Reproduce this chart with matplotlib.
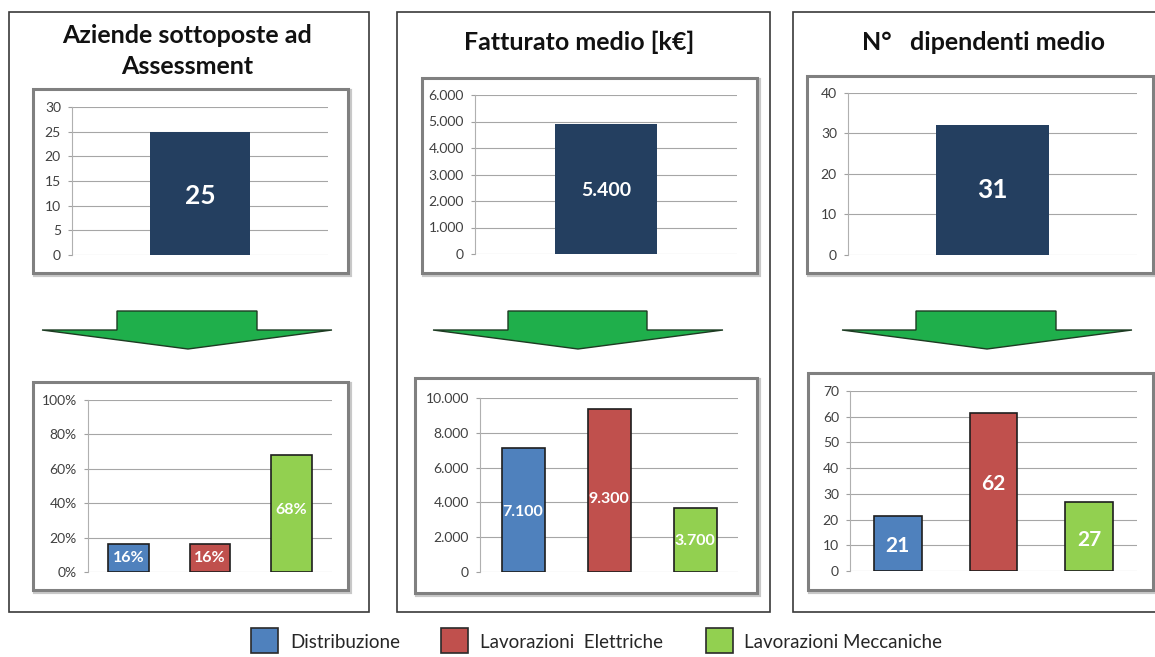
import matplotlib
matplotlib.use("Agg")
import matplotlib.pyplot as plt
from matplotlib.patches import Rectangle, Polygon

plt.rcParams['font.family'] = ['Lato', 'DejaVu Sans']

# ---------------- data ----------------
titles = ["Aziende sottoposte ad\nAssessment", "Fatturato medio [k\u20ac]", "N\u00b0   dipendenti medio"]

top_values = [25, 4900, 32]
top_labels = ["25", "5.400", "31"]
top_ticks = [[0, 5, 10, 15, 20, 25, 30],
             [0, 1000, 2000, 3000, 4000, 5000, 6000],
             [0, 10, 20, 30, 40]]
top_ticklabels = [["0", "5", "10", "15", "20", "25", "30"],
                  ["0", "1.000", "2.000", "3.000", "4.000", "5.000", "6.000"],
                  ["0", "10", "20", "30", "40"]]

categories = ["Distribuzione", "Lavorazioni  Elettriche", "Lavorazioni Meccaniche"]
bottom_values = [[0.16, 0.16, 0.68],
                 [7150, 9350, 3700],
                 [21.5, 61.5, 27]]
bottom_labels = [["16%", "16%", "68%"],
                 ["7.100", "9.300", "3.700"],
                 ["21", "62", "27"]]
bottom_ticks = [[0, 0.2, 0.4, 0.6, 0.8, 1.0],
                [0, 2000, 4000, 6000, 8000, 10000],
                [0, 10, 20, 30, 40, 50, 60, 70]]
bottom_ticklabels = [["0%", "20%", "40%", "60%", "80%", "100%"],
                     ["0", "2.000", "4.000", "6.000", "8.000", "10.000"],
                     ["0", "10", "20", "30", "40", "50", "60", "70"]]

navy = "#243F60"
cat_colors = ["#4F81BD", "#C0504D", "#92D050"]

# ---------------- layout (pixels) ----------------
W, H = 1155, 657
fig = plt.figure(figsize=(W / 100, H / 100), dpi=100)
fig.patch.set_facecolor("white")

bg = fig.add_axes([0, 0, 1, 1], zorder=0)
bg.set_xlim(0, W)
bg.set_ylim(H, 0)
bg.axis("off")

outer = [(9, 12, 369, 612), (397, 12, 770, 612), (793, 12, 1160, 612)]
title_xy = [(187, 51), (579, 42), (983, 43)]
top_box = [(33, 89, 348, 273), (422, 78, 757, 273), (807, 76, 1153, 273)]
top_plot = [(72, 107, 328, 255), (475, 95, 737, 254), (848, 93, 1137, 255)]
bot_box = [(33, 382, 348, 590), (415, 378, 757, 593), (808, 373, 1153, 590)]
bot_plot = [(88, 400, 332, 572), (480, 398, 738, 572), (850, 391, 1137, 571)]
arrows = [(117, 257, 42, 332, 188), (508, 647, 433, 723, 578), (916, 1056, 842, 1132, 987)]


def px_axes(box):
    x0, y0, x1, y1 = box
    return fig.add_axes([x0 / W, 1 - y1 / H, (x1 - x0) / W, (y1 - y0) / H], zorder=3)


def frame(box, shadow=True):
    x0, y0, x1, y1 = box
    if shadow:
        bg.add_patch(Rectangle((x0 + 2, y0 + 2), x1 - x0, y1 - y0, facecolor="#d0d0d0",
                               edgecolor="#c8c8c8", lw=3, zorder=1))
        bg.add_patch(Rectangle((x0, y0), x1 - x0, y1 - y0, facecolor="white",
                               edgecolor="#808080", lw=2.2, zorder=2))
    else:
        bg.add_patch(Rectangle((x0, y0), x1 - x0, y1 - y0, facecolor="white",
                               edgecolor="#3a3a3a", lw=1.2, zorder=0.5))


def style(ax, ticks, labels, ymax):
    ax.set_facecolor("none")
    ax.set_ylim(0, ymax)
    ax.set_yticks(ticks)
    ax.set_yticklabels(labels)
    ax.set_xticks([])
    ax.tick_params(axis="y", labelsize=10, labelcolor="#404040", color="#a0a0a0",
                   length=3, width=0.8, pad=5)
    for s in ["top", "right", "bottom"]:
        ax.spines[s].set_visible(False)
    ax.spines["left"].set_color("#b0b0b0")
    ax.spines["left"].set_linewidth(0.8)
    ax.yaxis.grid(True, color="#a6a6a6", lw=0.8)
    ax.set_axisbelow(True)


for i in range(3):
    frame(outer[i], shadow=False)
    frame(top_box[i])
    frame(bot_box[i])
    bg.text(title_xy[i][0], title_xy[i][1], titles[i], ha="center", va="center",
            fontsize=18, fontweight="bold", color="#111111", linespacing=1.45, zorder=3)

    # arrow
    bx0, bx1, wx0, wx1, tipx = arrows[i]
    pts = [(bx0, 311), (bx1, 311), (bx1, 330), (wx1, 330), (tipx, 349), (wx0, 330), (bx0, 330)]
    bg.add_patch(Polygon(pts, closed=True, facecolor="#1FAF4B", edgecolor="#1d3b22",
                         lw=1.0, joinstyle="miter", zorder=3))

    # top chart
    ax = px_axes(top_plot[i])
    ymax = top_ticks[i][-1]
    ax.bar([0], [top_values[i]], width=0.78, color=navy, zorder=3)
    ax.set_xlim(-1, 1)
    style(ax, top_ticks[i], top_ticklabels[i], ymax)
    ax.text(0, ymax * 0.4, top_labels[i], ha="center", va="center", color="white",
            fontsize=19 if i != 1 else 14, fontweight="bold", zorder=4)

    # bottom chart
    ax = px_axes(bot_plot[i])
    ymax = bottom_ticks[i][-1]
    xs = range(len(categories))
    ax.bar(xs, bottom_values[i], width=0.5, color=cat_colors, edgecolor="#1e1e1e",
           lw=1.2, zorder=3)
    ax.set_xlim(-0.5, 2.5)
    style(ax, bottom_ticks[i], bottom_ticklabels[i], ymax)
    for j, (v, lab) in enumerate(zip(bottom_values[i], bottom_labels[i])):
        if i == 0:
            y = v / 2 if v < 0.3 else v * 0.53
            fs = 11.5
        elif i == 1:
            y = v * 0.48 if j != 1 else v * 0.45
            fs = 11.5
        else:
            y = v * 0.45 if j != 1 else v * 0.55
            fs = 15
        ax.text(j, y, lab, ha="center", va="center", color="white",
                fontsize=fs, fontweight="bold", zorder=4)

# legend
leg_sq = [251, 441, 706]
leg_tx = [290, 480, 744]
for c, sx, tx, name in zip(cat_colors, leg_sq, leg_tx, categories):
    bg.add_patch(Rectangle((sx, 628), 27, 25, facecolor=c, edgecolor="#2a2a2a", lw=1.2, zorder=3))
    bg.text(tx, 643, name, ha="left", va="center", fontsize=13.5, color="#262626", zorder=3)

fig.savefig("out.png", dpi=100, facecolor="white")
